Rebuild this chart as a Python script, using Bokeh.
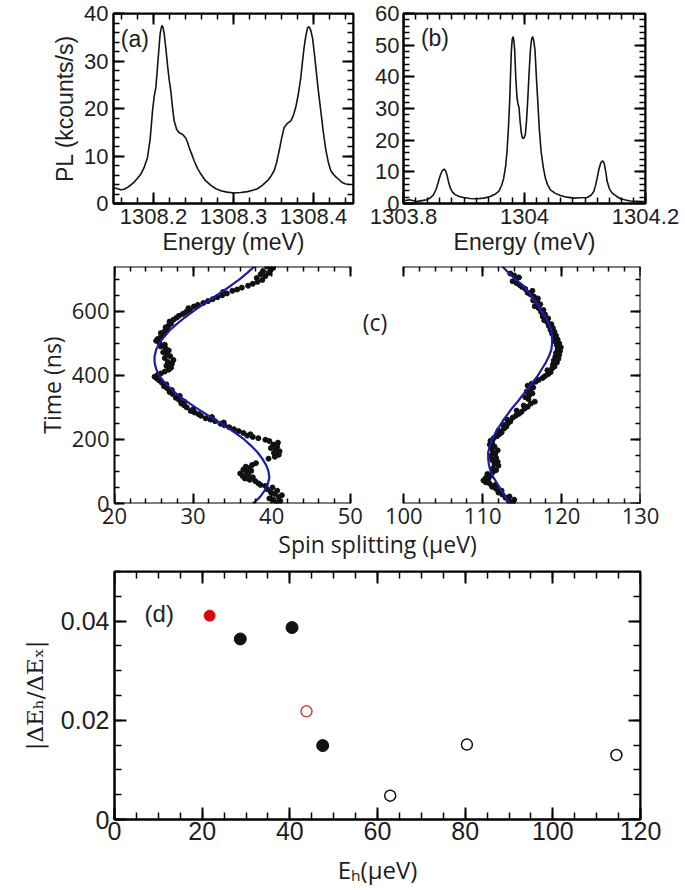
import numpy as np
from bokeh.plotting import figure
from bokeh.layouts import column, row
from bokeh.models import FixedTicker, LinearAxis, Range1d, Label
from bokeh.embed import file_html
from bokeh.resources import INLINE

# ---------------- data: panel (a) ----------------
a_energy = [1308.1508, 1308.1550, 1308.1592, 1308.1633, 1308.1675, 1308.1717, 1308.1758, 1308.1800,
            1308.1842, 1308.1883, 1308.1925, 1308.1958, 1308.1988, 1308.2008, 1308.2030, 1308.2050,
            1308.2070, 1308.2083, 1308.2104, 1308.2120, 1308.2133, 1308.2155, 1308.2175, 1308.2196,
            1308.2217, 1308.2238, 1308.2258, 1308.2290, 1308.2321, 1308.2360, 1308.2404, 1308.2425,
            1308.2446, 1308.2475, 1308.2508, 1308.2550, 1308.2592, 1308.2650, 1308.2717, 1308.2780,
            1308.2842, 1308.2920, 1308.3008, 1308.3090, 1308.3175, 1308.3240, 1308.3300, 1308.3360,
            1308.3425, 1308.3470, 1308.3508, 1308.3540, 1308.3571, 1308.3600, 1308.3633, 1308.3670,
            1308.3717, 1308.3750, 1308.3779, 1308.3810, 1308.3842, 1308.3862, 1308.3883, 1308.3904,
            1308.3925, 1308.3946, 1308.3967, 1308.3988, 1308.4008, 1308.4029, 1308.4060, 1308.4092,
            1308.4123, 1308.4154, 1308.4185, 1308.4217, 1308.4250, 1308.4279, 1308.4320, 1308.4360,
            1308.4404, 1308.4450]
a_pl = [3.3, 3.1, 2.9, 3.0, 3.4, 3.9, 4.5, 5.3,
        6.2, 7.6, 9.7, 13.5, 19.5, 22.5, 24.5, 28.7,
        33.0, 35.7, 37.5, 37.0, 35.8, 32.5, 29.2, 26.0,
        23.6, 20.2, 17.4, 15.6, 14.9, 14.6, 13.8, 12.9,
        11.8, 10.5, 9.0, 7.4, 6.2, 4.8, 3.8, 3.1,
        2.7, 2.4, 2.2, 2.3, 2.5, 2.8, 3.1, 3.8,
        4.8, 5.8, 6.9, 8.7, 11.1, 13.6, 16.0, 16.8,
        17.4, 18.6, 20.3, 23.0, 26.6, 29.8, 32.9, 35.3,
        37.0, 37.2, 36.4, 34.8, 32.0, 28.7, 23.8, 19.4,
        15.0, 11.3, 8.7, 6.9, 6.1, 5.6, 5.0, 4.4,
        4.1, 4.0]

# ---------------- data: panel (b) ----------------
b_energy = [1303.8028, 1303.8100, 1303.8221, 1303.8300, 1303.8386, 1303.8450, 1303.8497, 1303.8540,
            1303.8579, 1303.8610, 1303.8635, 1303.8673, 1303.8700, 1303.8717, 1303.8745, 1303.8773,
            1303.8810, 1303.8855, 1303.8920, 1303.8993, 1303.9100, 1303.9214, 1303.9330, 1303.9435,
            1303.9510, 1303.9573, 1303.9620, 1303.9656, 1303.9690, 1303.9711, 1303.9735, 1303.9755,
            1303.9770, 1303.9783, 1303.9797, 1303.9810, 1303.9824, 1303.9838, 1303.9855, 1303.9876,
            1303.9892, 1303.9909, 1303.9925, 1303.9943, 1303.9960, 1303.9976, 1303.9995, 1304.0014,
            1304.0033, 1304.0053, 1304.0075, 1304.0097, 1304.0116, 1304.0136, 1304.0155, 1304.0174,
            1304.0196, 1304.0219, 1304.0245, 1304.0274, 1304.0310, 1304.0345, 1304.0385, 1304.0428,
            1304.0510, 1304.0594, 1304.0700, 1304.0815, 1304.0920, 1304.1035, 1304.1100, 1304.1146,
            1304.1175, 1304.1201, 1304.1230, 1304.1260, 1304.1289, 1304.1305, 1304.1322, 1304.1345,
            1304.1366, 1304.1400, 1304.1449, 1304.1520, 1304.1587, 1304.1670, 1304.1753, 1304.1860,
            1304.1974]
b_pl = [0.9, 1.2, 0.6, 0.9, 1.2, 1.9, 2.8, 4.5,
        7.0, 9.0, 10.2, 10.9, 10.2, 9.1, 6.8, 4.9,
        3.6, 2.8, 2.2, 1.9, 1.6, 1.5, 1.7, 2.2,
        2.9, 3.8, 5.6, 8.0, 12.0, 16.5, 24.0, 32.4,
        41.0, 48.3, 51.8, 52.7, 51.5, 48.3, 40.0, 33.4,
        31.5, 30.3, 26.5, 22.9, 21.0, 20.5, 20.8, 21.8,
        26.0, 32.4, 41.0, 48.3, 51.8, 52.7, 51.2, 48.3,
        40.0, 32.4, 23.5, 16.5, 11.5, 8.0, 5.8, 4.3,
        3.2, 2.5, 2.0, 1.7, 1.8, 1.9, 2.6, 3.8,
        5.8, 8.0, 10.8, 12.8, 13.5, 13.2, 12.3, 9.8,
        7.0, 4.8, 3.3, 2.3, 1.5, 1.1, 0.8, 0.7,
        0.6]

# ---------------- data: panel (c) ----------------
c_fit_t = [0, 20, 40, 60, 80, 100, 120, 140, 160, 180, 200, 220, 240, 260, 280, 300, 320, 340, 360,
           380, 400, 420, 440, 460, 480, 500, 520, 540, 560, 580, 600, 620, 640, 660, 680, 700, 720, 740]
c_fit_left = [37.6, 38.5, 39.1, 39.5, 39.7, 39.6, 39.3, 38.8, 38.2, 37.4, 36.5, 35.4, 34.2, 32.9, 31.6,
              30.3, 29.1, 28.0, 27.1, 26.3, 25.7, 25.3, 25.1, 25.1, 25.3, 25.7, 26.3, 27.0, 27.9, 28.9,
              30.0, 31.2, 32.4, 33.6, 34.8, 35.9, 36.9, 37.8]
c_fit_right = [113.4, 112.9, 112.4, 111.9, 111.4, 111.0, 110.8, 110.7, 110.7, 110.9, 111.2, 111.6, 112.1,
               112.6, 113.2, 113.8, 114.5, 115.1, 115.8, 116.4, 117.0, 117.5, 118.0, 118.4, 118.7, 118.8,
               118.8, 118.7, 118.4, 118.0, 117.5, 117.0, 116.4, 115.8, 115.1, 114.2, 113.3, 112.5]

c_left_t = [3, 8, 12, 16, 20, 26, 30, 35, 40, 45, 50, 55, 58, 63,
            70, 74, 78, 82, 86, 90, 94, 98, 102, 106, 110, 115, 120, 126,
            140, 146, 152, 158, 163, 168, 173, 178, 184, 190, 195, 199,
            204, 208, 212, 216, 220, 226, 232, 238, 244, 249, 253, 257, 262, 266, 270, 274, 279, 284, 289, 294,
            300, 306, 312, 318, 324, 330, 336, 342, 348, 354, 360, 366, 372, 378, 384, 390, 396, 402, 406,
            412, 418, 424, 430, 436, 442, 448, 454, 460, 466, 472, 478, 484, 490, 496, 502, 508, 514,
            520, 526, 532, 538, 544, 550, 556, 562, 568, 574, 580, 586, 592, 598, 604, 610, 615, 620, 626,
            632, 638, 644, 650, 656, 660, 664, 668, 674,
            680, 686, 692, 698, 704, 710, 716, 720, 726, 730, 736, 740]
c_left_s = [40.6, 41.1, 40.2, 39.7, 40.9, 41.3, 40.4, 39.9, 40.7, 39.4, 40.1, 39.2, 38.6, 38.3,
            37.9, 37.2, 36.6, 37.6, 36.3, 37.0, 36.0, 36.8, 37.4, 36.4, 37.1, 36.7, 37.5, 38.0,
            39.6, 40.4, 40.9, 40.3, 41.0, 40.5, 39.9, 40.7, 40.2, 40.8, 39.7, 39.2,
            38.3, 37.6, 36.9, 37.3, 36.4, 35.8, 35.2, 34.6, 34.0, 33.5, 33.9, 32.8, 32.2, 31.6, 32.4, 31.0,
            30.7, 30.2, 29.7, 30.0,
            29.2, 28.9, 28.5, 28.9, 28.2, 27.8, 28.3, 27.4, 27.0, 27.3, 26.7, 26.3, 26.6, 26.0, 25.7, 25.4,
            25.1, 25.5, 25.9,
            26.4, 26.9, 27.2, 26.6, 27.3, 26.8, 27.5, 26.4, 27.1, 26.7, 26.2, 26.9, 26.5, 25.9, 26.4, 25.7,
            25.3, 25.5,
            25.9, 26.1, 25.9, 26.4, 26.7, 26.5, 26.9, 27.2, 27.0, 27.5, 27.9, 28.2, 28.7, 29.1, 29.6, 29.4,
            30.1, 30.6, 31.3,
            31.9, 32.5, 33.1, 33.7, 34.3, 33.8, 35.0, 35.6, 36.2,
            37.0, 37.6, 38.2, 38.8, 38.1, 39.2, 38.6, 39.6, 38.9, 39.9, 40.2, 39.4]

c_right_t = [3, 8, 12, 18, 22, 28, 34, 40, 46, 52, 58, 62, 66, 72, 76, 80, 86, 92, 98, 104,
             110, 118, 124, 130, 136, 142, 148, 154, 160, 166, 172, 178, 184, 190, 196,
             204, 210, 216, 222, 228, 234, 240, 246, 250, 256, 262, 268, 274, 280, 286, 290, 296, 302, 306,
             312, 318, 326, 332, 338, 344, 350, 356, 362, 368, 374, 380, 386, 392, 398, 404, 410, 416, 422,
             428, 434, 440, 446, 452, 458, 464, 470, 476, 482, 488, 494, 500, 506, 512, 518, 524, 530, 536,
             542, 548, 554, 560, 566, 572, 578, 584, 590,
             598, 604, 610, 616, 622, 628, 634, 640, 646, 652, 658, 664, 670, 676, 682, 688, 694, 700, 706,
             712, 718]
c_right_s = [113.8, 113.3, 114.0, 112.9, 113.4, 112.5, 112.0, 112.4, 111.7, 111.2, 111.6, 110.9, 110.4,
             110.1, 110.7, 110.4, 111.0, 110.6, 111.3, 111.7,
             111.3, 112.0, 111.5, 111.9, 111.2, 111.7, 111.0, 111.6, 111.3, 111.9, 111.1, 111.5, 110.9,
             111.2, 111.0,
             111.4, 111.8, 112.1, 112.4, 112.0, 112.7, 113.0, 112.6, 113.2, 113.5, 113.1, 113.8, 114.2,
             114.6, 114.9, 114.3, 115.3, 115.7, 115.2,
             116.1, 116.6, 115.8, 115.4, 115.9, 116.3, 115.6, 116.0, 116.4, 115.7, 116.2, 116.7, 117.1,
             117.6, 117.9, 118.3, 118.6, 118.2, 118.8,
             119.1, 118.9, 119.4, 119.0, 119.6, 119.2, 119.7, 119.3, 119.8, 119.5, 119.9, 119.4, 119.7,
             119.2, 119.5, 119.0, 119.3, 118.8, 119.1, 118.6, 118.9, 118.4, 118.7, 118.2, 117.8, 118.3,
             117.6, 117.9,
             117.4, 117.7, 117.1, 116.6, 117.3, 116.9, 116.4, 117.0, 116.5, 116.1, 115.7, 116.3, 115.4,
             115.0, 114.7, 114.3, 113.8, 114.2, 114.6, 114.0, 113.5]

# ---------------- data: panel (d) ----------------
d_eh = [21.7, 28.7, 40.5, 43.8, 47.5, 62.9, 80.4, 114.5]
d_ratio = [0.0411, 0.0364, 0.0387, 0.0218, 0.0149, 0.0048, 0.0151, 0.0130]
d_filled = [True, True, True, False, True, False, False, False]
d_red = [True, False, False, True, False, False, False, False]

# ---------------- ticks ----------------
a_xticks = [1308.2, 1308.3, 1308.4]
a_xminor = [round(1308.16 + 0.02 * i, 2) for i in range(15)]
a_yticks = [0, 10, 20, 30, 40]
a_yminor = list(range(0, 41, 2))
b_xticks = [1303.8, 1304.0, 1304.2]
b_xminor = [round(1303.8 + 0.02 * i, 2) for i in range(21)]
b_yticks = [0, 10, 20, 30, 40, 50, 60]
b_yminor = list(range(0, 61, 2))
c_lxticks = [20, 30, 40, 50]
c_lxminor = list(range(20, 51, 2))
c_rxticks = [100, 110, 120, 130]
c_rxminor = list(range(100, 131, 2))
c_yticks = [0, 200, 400, 600]
c_yminor = list(range(0, 741, 50))
d_xticks = [0, 20, 40, 60, 80, 100, 120]
d_xminor = list(range(0, 121, 5))
d_yticks = [0, 0.02, 0.04]
d_yminor = [round(0.005 * i, 3) for i in range(11)]

TXT = "#1e1e1e"
ARIAL = "Liberation Sans"
CAL = "Open Sans"


def style(ax, font, size, tmaj=11, tmin=6, labels=True, lw=2):
    ax.axis_line_color = "black"
    ax.axis_line_width = lw
    ax.major_tick_in = tmaj
    ax.major_tick_out = 0
    ax.minor_tick_in = tmin
    ax.minor_tick_out = 0
    ax.major_tick_line_color = "black"
    ax.minor_tick_line_color = "black"
    ax.major_tick_line_width = lw
    ax.minor_tick_line_width = 1.5
    ax.major_label_text_font = font
    ax.major_label_text_font_size = f"{size}px"
    ax.major_label_text_color = TXT if labels else None
    ax.axis_label_text_font = font
    ax.axis_label_text_font_style = "normal"
    ax.axis_label_text_color = TXT


def base_fig(w, h, xr, yr, ml, mr, mt, mb, **kw):
    p = figure(width=w, height=h, x_range=xr, y_range=yr, output_backend="svg",
               toolbar_location=None, min_border_left=ml, min_border_right=mr,
               min_border_top=mt, min_border_bottom=mb, **kw)
    p.grid.visible = False
    p.background_fill_color = "white"
    p.border_fill_color = "white"
    return p


# ---------------- panel (a) ----------------
pa = base_fig(358, 262, Range1d(1308.15, 1308.45), Range1d(0, 40), 113, 5, 13, 59)
pa.outline_line_color = "black"
pa.outline_line_width = 2
pa.xaxis.ticker = FixedTicker(ticks=a_xticks, minor_ticks=a_xminor)
pa.yaxis.ticker = FixedTicker(ticks=a_yticks, minor_ticks=a_yminor)
style(pa.xaxis[0], ARIAL, 22)
style(pa.yaxis[0], ARIAL, 22)
pa.xaxis.major_label_standoff = 5
pa.yaxis.major_label_standoff = 5
pa.xaxis.axis_label = "Energy (meV)"
pa.yaxis.axis_label = "PL (kcounts/s)"
pa.xaxis.axis_label_text_font_size = "23px"
pa.yaxis.axis_label_text_font_size = "23px"
pa.xaxis.axis_label_standoff = 2
pa.yaxis.axis_label_standoff = 3
ta = LinearAxis(ticker=FixedTicker(ticks=a_xticks, minor_ticks=a_xminor), fixed_location=40)
style(ta, ARIAL, 22, labels=False)
pa.add_layout(ta, "above")
ra = LinearAxis(ticker=FixedTicker(ticks=a_yticks, minor_ticks=a_yminor), fixed_location=1308.45)
style(ra, ARIAL, 22, labels=False)
pa.add_layout(ra, "right")
pa.line(a_energy, a_pl, line_color="#141414", line_width=1.6)
pa.add_layout(Label(x=1308.1766, y=34.7, text="(a)", text_font=ARIAL, text_font_size="23px",
                    text_color=TXT, text_align="center", text_baseline="middle"))

# ---------------- panel (b) ----------------
pb = base_fig(327, 262, Range1d(1303.8, 1304.2), Range1d(0, 60), 45, 40, 13, 59)
pb.outline_line_color = "black"
pb.outline_line_width = 2
pb.xaxis.ticker = FixedTicker(ticks=b_xticks, minor_ticks=b_xminor)
pb.yaxis.ticker = FixedTicker(ticks=b_yticks, minor_ticks=b_yminor)
style(pb.xaxis[0], ARIAL, 22)
style(pb.yaxis[0], ARIAL, 22)
pb.xaxis.major_label_overrides = {1304.0: "1304"}
pb.xaxis.major_label_standoff = 5
pb.yaxis.major_label_standoff = 4
pb.xaxis.axis_label = "Energy (meV)"
pb.xaxis.axis_label_text_font_size = "23px"
pb.xaxis.axis_label_standoff = 2
tb = LinearAxis(ticker=FixedTicker(ticks=b_xticks, minor_ticks=b_xminor), fixed_location=60)
style(tb, ARIAL, 22, labels=False)
pb.add_layout(tb, "above")
rb = LinearAxis(ticker=FixedTicker(ticks=b_yticks, minor_ticks=b_yminor), fixed_location=1304.2)
style(rb, ARIAL, 22, labels=False)
pb.add_layout(rb, "right")
pb.line(b_energy, b_pl, line_color="#141414", line_width=1.6)
pb.add_layout(Label(x=1303.852, y=52.4, text="(b)", text_font=ARIAL, text_font_size="23px",
                    text_color=TXT, text_align="center", text_baseline="middle"))

# ---------------- panel (c): broken x axis in one frame ----------------
C_W, C_ML, C_MR = 685, 114, 40
frame_w = C_W - C_ML - C_MR            # 531 px
left_px = 238                          # 20..50 occupies 238 px
right_px = 239                         # 100..130 occupies 239 px
c_xend = 20 + frame_w * 30 / left_px
c_rstart = 130 - frame_w * 30 / right_px
pc = base_fig(C_W, 300, Range1d(20, c_xend), Range1d(0, 740), C_ML, C_MR, 4, 59,
              x_axis_location=None)
pc.extra_x_ranges = {"r": Range1d(c_rstart, 130)}
pc.outline_line_color = None
pc.yaxis.ticker = FixedTicker(ticks=c_yticks, minor_ticks=c_yminor)
style(pc.yaxis[0], CAL, 22, tmaj=10, tmin=5, lw=2)
pc.yaxis.major_label_standoff = 5
pc.yaxis.axis_label = "Time (ns)"
pc.yaxis.axis_label_text_font_size = "23px"
pc.yaxis.axis_label_standoff = 1


def to_main(v):
    # position of a right-part value expressed in the main (left) range units
    f = (v - c_rstart) / (130 - c_rstart)
    return 20 + f * (c_xend - 20)


# label-only bottom axis spanning both parts (tick labels + shared axis title)
lab_ticks = [float(v) for v in c_lxticks] + [to_main(v) for v in c_rxticks]
lab_text = [str(v) for v in c_lxticks] + [str(v) for v in c_rxticks]
bx = LinearAxis(ticker=FixedTicker(ticks=lab_ticks, minor_ticks=[]))
style(bx, CAL, 22, tmaj=0, tmin=0)
bx.axis_line_color = None
bx.major_tick_line_color = None
bx.minor_tick_line_color = None
bx.major_label_overrides = dict(zip(lab_ticks, lab_text))
bx.major_label_standoff = 4
bx.axis_label = "Spin splitting (μeV)"
bx.axis_label_text_font_size = "23px"
bx.axis_label_standoff = 1
pc.add_layout(bx, "below")

# spines with ticks (no labels)
bl = LinearAxis(bounds=(20, 50), fixed_location=0,
                ticker=FixedTicker(ticks=c_lxticks, minor_ticks=c_lxminor))
style(bl, CAL, 22, tmaj=10, tmin=5, labels=False)
pc.add_layout(bl, "below")
br = LinearAxis(x_range_name="r", bounds=(100, 130), fixed_location=0,
                ticker=FixedTicker(ticks=c_rxticks, minor_ticks=c_rxminor))
style(br, CAL, 22, tmaj=10, tmin=5, labels=False)
pc.add_layout(br, "below")
tl = LinearAxis(bounds=(20, 50), fixed_location=740,
                ticker=FixedTicker(ticks=c_lxticks, minor_ticks=c_lxminor))
style(tl, CAL, 22, tmaj=10, tmin=5, labels=False)
pc.add_layout(tl, "above")
tr = LinearAxis(x_range_name="r", bounds=(100, 130), fixed_location=740,
                ticker=FixedTicker(ticks=c_rxticks, minor_ticks=c_rxminor))
style(tr, CAL, 22, tmaj=10, tmin=5, labels=False)
pc.add_layout(tr, "above")
rr = LinearAxis(x_range_name="r", fixed_location=130,
                ticker=FixedTicker(ticks=c_yticks, minor_ticks=c_yminor))
style(rr, CAL, 22, tmaj=10, tmin=5, labels=False)
pc.add_layout(rr, "right")

pc.scatter(c_left_s, c_left_t, size=5, color="#111111")
pc.line(c_fit_left, c_fit_t, line_color="#1c1ca8", line_width=2.2)
pc.scatter(c_right_s, c_right_t, size=5, color="#111111", x_range_name="r")
pc.line(c_fit_right, c_fit_t, line_color="#1c1ca8", line_width=2.2, x_range_name="r")
pc.add_layout(Label(x=53.15, y=566, text="(c)", text_font=CAL, text_font_size="23px",
                    text_color=TXT, text_align="center", text_baseline="middle"))

# ---------------- panel (d) ----------------
pdd = base_fig(685, 326, Range1d(0, 120), Range1d(0, 0.05), 112, 45, 9, 66)
pdd.outline_line_color = "black"
pdd.outline_line_width = 2
pdd.xaxis.ticker = FixedTicker(ticks=d_xticks, minor_ticks=d_xminor)
pdd.yaxis.ticker = FixedTicker(ticks=d_yticks, minor_ticks=d_yminor)
style(pdd.xaxis[0], ARIAL, 25, tmaj=12, tmin=7)
style(pdd.yaxis[0], ARIAL, 25, tmaj=12, tmin=7)
pdd.yaxis.major_label_overrides = {0: "0"}
pdd.xaxis.major_label_standoff = 2
pdd.yaxis.major_label_standoff = 5
pdd.yaxis.axis_label = "|ΔEₕ/ΔEₓ|"
pdd.yaxis.axis_label_text_font = "DejaVu Serif"
pdd.yaxis.axis_label_text_font_size = "23px"
pdd.yaxis.axis_label_standoff = 10
pdd.xaxis.axis_label = "Eₕ(μeV)"
pdd.xaxis.axis_label_text_font = CAL
pdd.xaxis.axis_label_text_font_size = "24px"
pdd.xaxis.axis_label_standoff = 10
td = LinearAxis(ticker=FixedTicker(ticks=d_xticks, minor_ticks=d_xminor), fixed_location=0.05)
style(td, ARIAL, 25, tmaj=12, tmin=7, labels=False)
pdd.add_layout(td, "above")
rd = LinearAxis(ticker=FixedTicker(ticks=d_yticks, minor_ticks=d_yminor), fixed_location=120)
style(rd, ARIAL, 25, tmaj=12, tmin=7, labels=False)
pdd.add_layout(rd, "right")

for filled, red in [(True, True), (True, False), (False, True), (False, False)]:
    xs = [x for x, f, r in zip(d_eh, d_filled, d_red) if f == filled and r == red]
    ys = [y for y, f, r in zip(d_ratio, d_filled, d_red) if f == filled and r == red]
    col = ("#d40a0a" if filled else "#c8463c") if red else "#111111"
    if filled:
        pdd.scatter(xs, ys, size=12 if not red else 11, fill_color=col, line_color=col)
    else:
        pdd.scatter(xs, ys, size=11, fill_color="white", line_color=col, line_width=1.5)

pdd.add_layout(Label(x=10.2, y=0.0416, text="(d)", text_font=ARIAL, text_font_size="24px",
                     text_color=TXT, text_align="center", text_baseline="middle"))

layout = column(row(pa, pb, spacing=0), pc, pdd, spacing=0)
open("out.html", "w").write(file_html(layout, INLINE, title="chart"))
